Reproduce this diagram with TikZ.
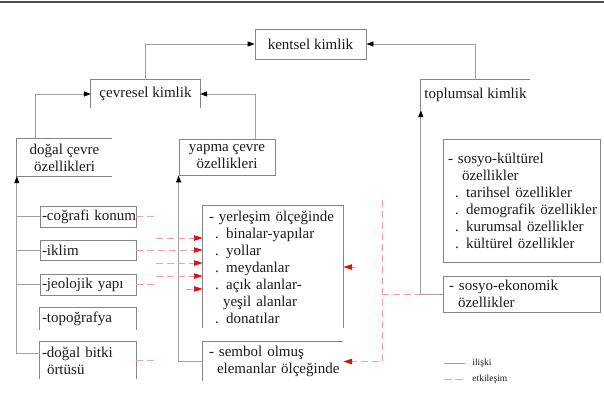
\documentclass[tikz,border=0pt]{standalone}
\usepackage{fontspec}
\setmainfont{LiberationSerif}[Extension=.ttf, UprightFont=*-Regular, BoldFont=*-Bold, ItalicFont=*-Italic, BoldItalicFont=*-BoldItalic]
\usetikzlibrary{arrows.meta,calc}
\definecolor{linegray}{HTML}{A0A0A0}
\definecolor{boxgray}{HTML}{858585}
\definecolor{pinkline}{HTML}{F0A0A0}
\definecolor{arrred}{HTML}{E01010}
\definecolor{txt}{HTML}{1A1A1A}
\definecolor{rulegray}{HTML}{505050}
\newcommand\myfs{\rmfamily\fontsize{15}{17}\selectfont}
\newcommand\mylegfs{\rmfamily\fontsize{9.5}{11}\selectfont}
\tikzset{
  hbox/.style={inner sep=0pt, font=\myfs, text=txt},
  sbox/.style={hbox, align=left, text width=92pt, inner xsep=2pt, minimum width=96pt},
  bline/.style={draw=boxgray, line width=0.8pt},
  conn/.style={draw=linegray, line width=0.8pt},
  carr/.style={conn, -{Triangle[length=7pt,width=5pt,color=black]}},
  edash/.style={draw=pinkline, line width=0.9pt, dash pattern=on 7pt off 4pt},
  earr/.style={edash, -{Triangle[length=9pt,width=5.5pt,color=arrred]}},
  legtext/.style={font=\mylegfs, text=txt, inner xsep=7pt, inner ysep=0pt, anchor=west}
}
\begin{document}
\begin{tikzpicture}[x=1pt,y=-1pt]
\useasboundingbox (0,0) rectangle (604,406);
\draw[rulegray, line width=1.6pt] (0,2) -- (604,2);

% top level
\node[hbox,minimum width=111pt,minimum height=30pt,bline] (kentsel) at (310.5,44) {kentsel kimlik};
\node[hbox,minimum width=109pt,minimum height=28pt] (cevresel) at (145.5,94) {çevresel kimlik};
\node[hbox,minimum width=109pt,minimum height=30pt] (toplumsal) at (475.5,95) {toplumsal kimlik};
\node[hbox,align=center,minimum width=95pt,minimum height=37pt] (dogal) at (64.5,157.5) {doğal çevre\\özellikleri};
\node[hbox,align=center,minimum width=96pt,minimum height=36pt,bline] (yapma) at (227,157) {yapma çevre\\özellikleri};

% natural environment items
\node[sbox,minimum height=21pt,bline] (cografi) at (88,216.5) {\mbox{-coğrafi konum}};
\node[sbox,minimum height=20pt,bline] (iklim) at (88,250) {-iklim};
\node[sbox,minimum height=21pt,bline] (jeolojik) at (88,284.5) {\mbox{-jeolojik yapı}};
\node[sbox,minimum height=22pt] (topografya) at (88,319) {-topoğrafya};
\node[sbox,minimum height=37pt] (bitki) at (88,360.5) {\mbox{-doğal bitki}\\\hspace*{5pt}örtüsü};

% built environment items
\node[hbox,align=left,text width=128pt,inner xsep=6pt,minimum width=140pt,minimum height=122pt] (yerlesim) at (273,267)
 {\mbox{- yerleşim ölçeğinde}\\
  \hspace*{6pt}\mbox{. binalar-yapılar}\\
  \hspace*{6pt}. yollar\\
  \hspace*{6pt}. meydanlar\\
  \hspace*{6pt}\mbox{. açık alanlar-}\\
  \hspace*{14pt}\mbox{yeşil alanlar}\\
  \hspace*{6pt}. donatılar};
\node[hbox,align=left,text width=128pt,inner xsep=6pt,minimum width=140pt,minimum height=39pt] (sembol) at (273,361.5)
 {\mbox{- sembol olmuş}\\\hspace*{8pt}\mbox{elemanlar ölçeğinde}};

% social items
\node[hbox,align=left,text width=147pt,inner xsep=5pt,minimum width=157pt,minimum height=123pt,bline] (kultur) at (521.5,200.5)
 {\mbox{- sosyo-kültürel}\\
  \hspace*{14pt}özellikler\\
  \hspace*{7pt}\mbox{. tarihsel özellikler}\\
  \hspace*{7pt}\mbox{. demografik özellikler}\\
  \hspace*{7pt}\mbox{. kurumsal özellikler}\\
  \hspace*{7pt}\mbox{. kültürel özellikler}};
\node[hbox,align=left,text width=145pt,inner xsep=6pt,minimum width=157pt,minimum height=36pt,bline] (ekonomik) at (521.5,294)
 {\mbox{- sosyo-ekonomik}\\\hspace*{9pt}özellikler};

% partial borders
\draw[bline] (cevresel.south west) -- (cevresel.north west) -- (cevresel.north east) -- (cevresel.south east);
\draw[bline] (toplumsal.south west) -- (toplumsal.north west) -- (toplumsal.north east);
\draw[bline] (dogal.north east) -- (dogal.north west) -- (dogal.south west) -- (dogal.south east);
\draw[bline] (topografya.south west) -- (topografya.north west) -- (topografya.north east) -- (topografya.south east);
\draw[bline] (bitki.south west) -- (bitki.north west) -- (bitki.north east) -- (bitki.south east);
\draw[bline] (yerlesim.south west) -- (yerlesim.north west) -- (yerlesim.north east) -- (yerlesim.south east);
\draw[bline] (sembol.south west) -- (sembol.north west) -- (sembol.north east);

% relation connectors
\draw[carr] (cevresel.north) |- (kentsel.west);
\draw[carr] (toplumsal.north) |- (kentsel.east);
\draw[carr] ([xshift=19pt]dogal.north west) |- (cevresel.west);
\draw[carr] ([xshift=-20pt]yapma.north east) |- (cevresel.east);
\draw[carr] ([yshift=7.5pt]bitki.west) -| (dogal.south west);
\draw[conn] (cografi.west) -- (cografi.west -| dogal.south west);
\draw[conn] (iklim.west) -- (iklim.west -| dogal.south west);
\draw[conn] (jeolojik.west) -- (jeolojik.west -| dogal.south west);
\draw[carr] (sembol.west) -| (yapma.south west);
\draw[carr] (ekonomik.west) -| (toplumsal.south west);

% interaction connectors
\coordinate (rtop) at (382,200);
\draw[earr] (rtop) |- (sembol.east);
\draw[edash] (rtop |- ekonomik.west) -- (ekonomik.west -| toplumsal.south west);
\draw[earr] ([xshift=13pt]yerlesim.east) -- (yerlesim.east);
\draw[edash] (cografi.east) -- ++(21,0);
\draw[earr] (iklim.east) -- (iklim.east -| yerlesim.west);
\draw[edash] (jeolojik.east) -- ++(21,0);
\draw[edash] (bitki.east) -- ++(21,0);
\coordinate (e1) at (156,238);
\coordinate (e2) at (156,263);
\coordinate (e3) at (156,276);
\coordinate (e4) at (186,289);
\draw[earr] (e1) -- (e1 -| yerlesim.west);
\draw[earr] (e2) -- (e2 -| yerlesim.west);
\draw[earr] (e3) -- (e3 -| yerlesim.west);
\draw[earr] (e4) -- (e4 -| yerlesim.west);

% legend
\coordinate (lg1) at (444,363);
\coordinate (lg2) at (444,379);
\draw[conn] (lg1) -- ++(21,0) node[legtext] (lgt1) {ilişki};
\draw[edash, dash pattern=on 8pt off 3pt] (lg2) -- ++(21,0) node[legtext] (lgt2) {etkileşim};
\end{tikzpicture}
\end{document}
